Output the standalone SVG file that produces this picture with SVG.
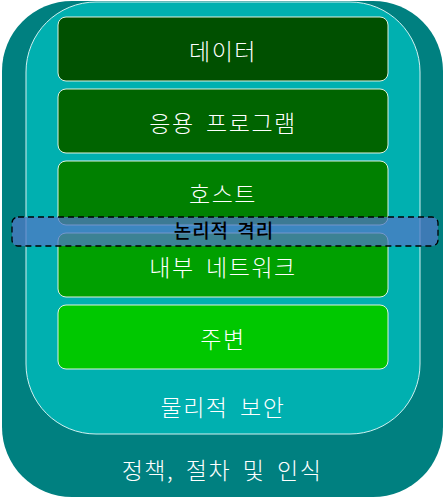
<svg xmlns="http://www.w3.org/2000/svg" width="445" height="498" viewBox="0 0 445 498">
<style>
.t{font-family:"Noto Sans CJK KR","Noto Sans",sans-serif;font-size:23px;font-weight:300;fill:#fff;text-anchor:middle;letter-spacing:1.5px;word-spacing:5px}
.box{stroke:#e0f0e0;stroke-width:1}
.lbl{font-family:"Noto Sans CJK KR","Noto Sans",sans-serif;font-size:19px;font-weight:500;fill:#000;text-anchor:middle;letter-spacing:1px;word-spacing:3px}
</style>
<g id="policy">
<rect x="2" y="1" width="441" height="496" rx="70" fill="#008080"/>
<text class="t" x="222" y="479">정책, 절차 및 인식</text>
</g>
<g id="physical">
<rect x="26" y="2" width="394" height="432" rx="70" fill="#00B0B0" stroke="#d0f0f0" stroke-width="1"/>
<text class="t" x="223" y="416">물리적 보안</text>
</g>
<g id="data">
<rect class="box" x="58" y="17" width="330" height="64" rx="8" fill="#005000"/>
<text class="t" x="223" y="60">데이터</text>
</g>
<g id="app">
<rect class="box" x="58" y="89" width="330" height="64" rx="8" fill="#006400"/>
<text class="t" x="223" y="132">응용 프로그램</text>
</g>
<g id="host">
<rect class="box" x="58" y="161" width="330" height="64" rx="8" fill="#008000"/>
<text class="t" x="223" y="203">호스트</text>
</g>
<g id="network">
<rect class="box" x="58" y="233" width="330" height="64" rx="8" fill="#00A000"/>
<text class="t" x="223" y="276">내부 네트워크</text>
</g>
<g id="perimeter">
<rect class="box" x="58" y="305" width="330" height="64" rx="8" fill="#00C800"/>
<text class="t" x="223" y="348">주변</text>
</g>
<g id="isolation">
<rect x="12" y="217" width="426" height="29" rx="6" fill="#5078C6" fill-opacity="0.75" stroke="#000" stroke-width="1.3" stroke-dasharray="6,4"/>
<text class="lbl" x="224" y="238">논리적 격리</text>
</g>
</svg>
